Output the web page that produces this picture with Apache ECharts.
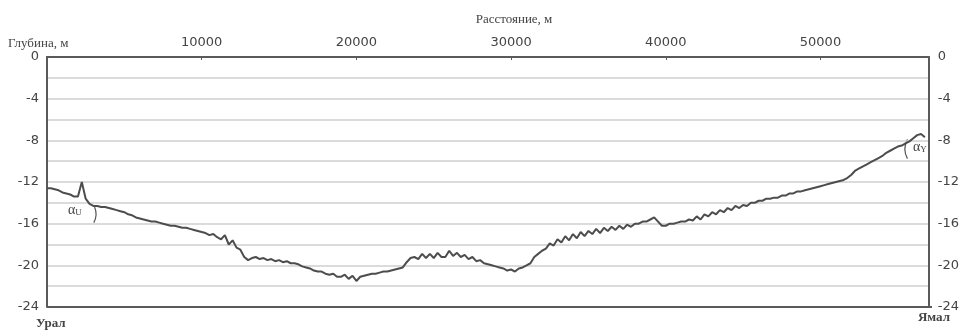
<!DOCTYPE html>
<html><head><meta charset="utf-8">
<script src="https://cdn.jsdelivr.net/npm/echarts@6/dist/echarts.min.js"></script>
<style>html,body{margin:0;padding:0;background:#fff}#c{width:962px;height:331px}</style>
</head><body><div id="c"></div>
<script>
// distance step between samples (m)
var stepM = 250;
// depth profile (m), one value every 250 m from 0
var depths = [
-12.6,-12.6,-12.7,-12.8,-13.0,-13.1,-13.2,-13.4,-13.4,-12.0,-13.6,-14.1,
-14.3,-14.3,-14.4,-14.4,-14.5,-14.6,-14.7,-14.8,-14.9,-15.1,-15.2,-15.4,
-15.5,-15.6,-15.7,-15.8,-15.8,-15.9,-16.0,-16.1,-16.2,-16.2,-16.3,-16.4,
-16.4,-16.5,-16.6,-16.7,-16.8,-16.9,-17.1,-17.0,-17.3,-17.5,-17.1,-18.0,
-17.6,-18.3,-18.5,-19.2,-19.5,-19.3,-19.2,-19.4,-19.3,-19.5,-19.4,-19.6,
-19.5,-19.7,-19.6,-19.8,-19.8,-19.9,-20.1,-20.2,-20.3,-20.5,-20.6,-20.6,
-20.8,-20.9,-20.8,-21.1,-21.1,-20.9,-21.3,-21.0,-21.5,-21.1,-21.0,-20.9,
-20.8,-20.8,-20.7,-20.6,-20.6,-20.5,-20.4,-20.3,-20.2,-19.7,-19.3,-19.2,
-19.4,-18.9,-19.3,-18.9,-19.3,-18.8,-19.2,-19.2,-18.6,-19.1,-18.8,-19.2,
-19.0,-19.4,-19.2,-19.6,-19.5,-19.8,-19.9,-20.0,-20.1,-20.2,-20.3,-20.5,
-20.4,-20.6,-20.3,-20.2,-20.0,-19.8,-19.2,-18.9,-18.6,-18.4,-17.9,-18.1,
-17.5,-17.8,-17.2,-17.6,-17.0,-17.4,-16.8,-17.2,-16.7,-17.0,-16.5,-16.9,
-16.4,-16.7,-16.3,-16.6,-16.2,-16.5,-16.1,-16.3,-16.0,-16.0,-15.8,-15.8,
-15.6,-15.4,-15.8,-16.2,-16.2,-16.0,-16.0,-15.9,-15.8,-15.8,-15.6,-15.7,
-15.3,-15.6,-15.1,-15.3,-14.9,-15.1,-14.7,-14.9,-14.5,-14.7,-14.3,-14.5,
-14.2,-14.3,-14.0,-14.0,-13.8,-13.8,-13.6,-13.6,-13.5,-13.5,-13.3,-13.3,
-13.1,-13.1,-12.9,-12.9,-12.8,-12.7,-12.6,-12.5,-12.4,-12.3,-12.2,-12.1,
-12.0,-11.9,-11.8,-11.6,-11.3,-10.9,-10.7,-10.5,-10.3,-10.1,-9.9,-9.7,
-9.5,-9.2,-9.0,-8.8,-8.6,-8.5,-8.3,-8.1,-7.8,-7.5,-7.4,-7.7
];
var xTicks = [10000, 20000, 30000, 40000, 50000];
var yTicks = [0, -4, -8, -12, -16, -20, -24];
var xTitle = 'Расстояние, м';
var yTitle = 'Глубина, м';
var leftEnd = 'Урал';
var rightEnd = 'Ямал';

var seriesData = depths.map(function(v, i){ return [i * stepM, v]; });
var numFont = 'DejaVu Sans';
var serif = 'Liberation Serif';
var axisCol = '#5a5a5a';

var chart = echarts.init(document.getElementById('c'), null, {renderer:'canvas'});
function yLab(v){ return yTicks.indexOf(v) >= 0 ? String(v) : ''; }
chart.setOption({
  animation:false,
  backgroundColor:'#fff',
  grid:{left:47, right:30, top:57, bottom:24},
  xAxis:{
    type:'value', position:'top', min:0, max:57000, interval:10000,
    axisLine:{show:true, lineStyle:{color:axisCol, width:2}},
    axisTick:{show:true, inside:true, length:3, lineStyle:{color:axisCol}},
    axisLabel:{margin:8, fontFamily:numFont, fontSize:13, color:'#444',
      formatter:function(v){ return xTicks.indexOf(v)>=0 ? String(v) : ''; }},
    splitLine:{show:false}
  },
  yAxis:[{
    type:'value', min:-24, max:0, interval:2, position:'left',
    axisLine:{show:true, lineStyle:{color:axisCol, width:2}},
    axisTick:{show:false},
    axisLabel:{margin:8, fontFamily:numFont, fontSize:13, color:'#444', formatter:yLab, showMinLabel:true, showMaxLabel:true},
    splitLine:{show:true, lineStyle:{color:'#cfcfcf', width:1.5}}
  },{
    type:'value', min:-24, max:0, interval:2, position:'right',
    axisLine:{show:true, onZero:false, lineStyle:{color:axisCol, width:2}},
    axisTick:{show:false},
    axisLabel:{margin:9, fontFamily:numFont, fontSize:13, color:'#444', formatter:yLab, showMinLabel:true, showMaxLabel:true},
    splitLine:{show:false}
  }],
  series:[{
    type:'line', data:seriesData, showSymbol:false, symbol:'none',
    lineStyle:{color:'#4d4d4d', width:2}, z:5
  }],
  graphic:[
    {type:'line', shape:{x1:47, y1:307, x2:932, y2:307}, style:{stroke:axisCol, lineWidth:2}, z:10},
    {type:'text', x:514, y:20, style:{text:xTitle, font:'13px "'+serif+'"', fill:'#444', textAlign:'center', textVerticalAlign:'middle'}},
    {type:'text', x:8, y:44, style:{text:yTitle, font:'13px "'+serif+'"', fill:'#444', textAlign:'left', textVerticalAlign:'middle'}},
    {type:'text', x:36, y:324, style:{text:leftEnd, font:'bold 13px "'+serif+'"', fill:'#444', textAlign:'left', textVerticalAlign:'middle'}},
    {type:'text', x:950, y:318, style:{text:rightEnd, font:'bold 13px "'+serif+'"', fill:'#444', textAlign:'right', textVerticalAlign:'middle'}},
    {type:'text', x:68, y:210, style:{text:'{a|α}{s|U}', rich:{a:{fontFamily:serif, fontSize:14, fill:'#444'}, s:{fontFamily:serif, fontSize:9, fill:'#444', padding:[6,0,0,0]}}, textVerticalAlign:'middle'}},
    {type:'text', x:913, y:147, style:{text:'{a|α}{s|Y}', rich:{a:{fontFamily:serif, fontSize:14, fill:'#444'}, s:{fontFamily:serif, fontSize:9, fill:'#444', padding:[6,0,0,0]}}, textVerticalAlign:'middle'}},
    {type:'arc', shape:{cx:78, cy:214, r:18, startAngle:-0.4, endAngle:0.5}, style:{stroke:'#555', fill:null, lineWidth:1.2}},
    {type:'arc', shape:{cx:925, cy:149, r:20, startAngle:Math.PI-0.5, endAngle:Math.PI+0.5}, style:{stroke:'#555', fill:null, lineWidth:1.2}}
  ]
});
</script></body></html>
